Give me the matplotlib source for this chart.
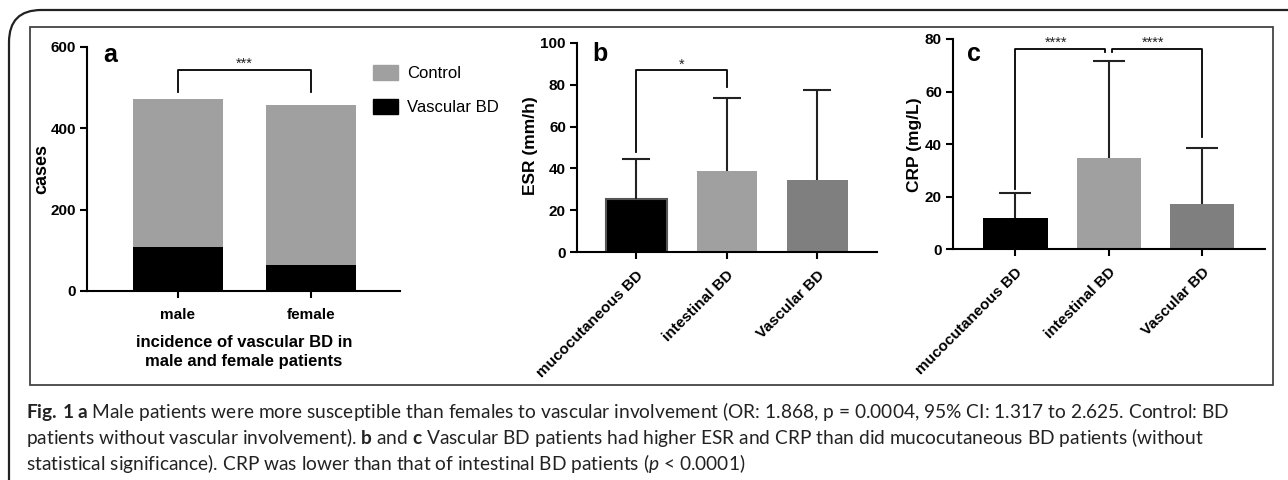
import numpy as np
import matplotlib
matplotlib.use("Agg")
import matplotlib.pyplot as plt
from matplotlib.patches import FancyBboxPatch, Rectangle, Patch

W, H = 1288, 480

# panel a
sexes = ["male", "female"]
vascular_a = [107, 64]
control_a = [365, 393]

# panels b and c
groups = ["mucocutaneous BD", "intestinal BD", "Vascular BD"]
esr_mean = [25.3, 38.7, 34.3]
esr_sd = [19.2, 34.8, 43.2]
crp_mean = [11.9, 34.8, 17.1]
crp_sd = [9.5, 36.9, 21.4]

bar_colors = ["black", "#a0a0a0", "#7f7f7f"]

caption = [
    r"$\mathbf{Fig.\:1\:a}$ Male patients were more susceptible than females to vascular involvement "
    r"(OR: 1.868, p = 0.0004, 95% CI: 1.317 to 2.625. Control: BD",
    r"patients without vascular involvement). $\mathbf{b}$ and $\mathbf{c}$ Vascular BD patients had "
    r"higher ESR and CRP than did mucocutaneous BD patients (without",
    r"statistical significance). CRP was lower than that of intestinal BD patients ($\mathit{p}$ < 0.0001)",
]

plt.rcParams["font.family"] = "Liberation Sans"
plt.rcParams["mathtext.fontset"] = "custom"
plt.rcParams["mathtext.rm"] = "Lato"
plt.rcParams["mathtext.bf"] = "Lato:bold"
plt.rcParams["mathtext.it"] = "Lato:italic"

fig = plt.figure(figsize=(W / 100, H / 100), dpi=100)
LW = 1.5


def px_axes(x0, y0, x1, y1):
    return fig.add_axes([x0 / W, 1 - y1 / H, (x1 - x0) / W, (y1 - y0) / H])


def style(ax):
    for s in ["top", "right"]:
        ax.spines[s].set_visible(False)
    for s in ["left", "bottom"]:
        ax.spines[s].set_linewidth(LW)
    ax.tick_params(width=LW, length=5, labelsize=11, pad=3)
    for lab in ax.get_xticklabels() + ax.get_yticklabels():
        lab.set_fontweight("bold")


def upper_err(ax, x, mean, sd, cap):
    tops = np.array(mean) + np.array(sd)
    ax.vlines(x, mean, tops, color="#222222", lw=1.5)
    ax.plot(x, tops, ls="none", marker="_", ms=cap, mew=1.5, color="#222222")


def bracket(ax, x0, x1, y, y0, y1, lw=1.3):
    ax.plot([x0, x0, x1, x1], [y0, y, y, y1], color="black", lw=lw, clip_on=False)


def stars(ax, x, y, s):
    ax.text(x, y, s, ha="center", va="baseline", fontsize=10.5, color="#222222")


def ftext(x, y, s, **kw):
    fig.text(x / W, 1 - y / H, s, **kw)


# frames
outer = FancyBboxPatch((9 / W, -0.2), 1.2, 1 - 10 / H + 0.2,
                       boxstyle="round,pad=0,rounding_size=0.025",
                       transform=fig.transFigure, fill=False, lw=1.6, ec="#222222",
                       mutation_aspect=W / H)
fig.patches.append(outer)
inner = Rectangle((30 / W, 1 - 385 / H), (1273 - 30) / W, (385 - 27) / H,
                  transform=fig.transFigure, fill=False, lw=1.3, ec="#444444")
fig.patches.append(inner)

# ---- panel a
ax = px_axes(87, 47, 400, 291)
xa = np.arange(len(sexes))
ax.bar(xa, vascular_a, width=0.68, color="black", label="Vascular BD")
ax.bar(xa, control_a, bottom=vascular_a, width=0.68, color="#a0a0a0", label="Control")
ax.set_xlim(-0.684, 1.669)
ax.set_ylim(0, 600)
ax.set_yticks([0, 200, 400, 600])
ax.set_xticks(xa)
ax.set_xticklabels(sexes)
style(ax)
ax.tick_params(axis="x", labelsize=11, pad=7)
bracket(ax, 0, 1, 543, 489, 489)
stars(ax, 0.5, 549, "***")
handles = [Patch(color="#a0a0a0"), Patch(color="black")]
fig.legend(handles, ["Control", "Vascular BD"], loc="upper left",
           bbox_to_anchor=(373 / W, 1 - 65 / H), frameon=False,
           prop={"family": "Liberation Sans", "size": 12},
           handlelength=1.5, handleheight=1.0, handletextpad=0.55,
           labelspacing=1.05, borderpad=0, borderaxespad=0)
ftext(103, 62, "a", fontsize=18, fontweight="bold", va="baseline")
ftext(42, 169, "cases", fontsize=13, fontweight="bold", rotation=90, ha="center", va="center")
ftext(244, 352, "incidence of vascular BD in\nmale and female patients", fontsize=12,
      fontweight="bold", ha="center", va="center", linespacing=1.3)

# ---- panel b
ax = px_axes(577, 43, 877, 252)
xb = np.arange(len(groups))
ax.bar(xb, esr_mean, width=0.67, color=bar_colors, edgecolor=["#555555", "none", "none"],
       linewidth=1.5)
upper_err(ax, xb, esr_mean, esr_sd, 20)
ax.set_xlim(-0.657, 2.66)
ax.set_ylim(0, 100)
ax.set_yticks(np.arange(0, 101, 20))
ax.set_xticks(xb)
ax.set_xticklabels(groups, rotation=45, ha="right", va="top", rotation_mode="anchor")
style(ax)
ax.tick_params(axis="x", labelsize=11, pad=6.5)
bracket(ax, 0, 1, 87, 48, 79)
stars(ax, 0.5, 87.5, "*")
ftext(592, 61, "b", fontsize=18, fontweight="bold", va="baseline")
ftext(530, 146, "ESR (mm/h)", fontsize=12.5, fontweight="bold", rotation=90, ha="center", va="center")

# ---- panel c
ax = px_axes(953, 39, 1265, 249)
ax.bar(xb, crp_mean, width=0.69, color=bar_colors)
upper_err(ax, xb, crp_mean, crp_sd, 23)
ax.set_xlim(-0.668, 2.674)
ax.set_ylim(0, 80)
ax.set_yticks(np.arange(0, 81, 20))
ax.set_xticks(xb)
ax.set_xticklabels(groups, rotation=45, ha="right", va="top", rotation_mode="anchor")
style(ax)
ax.tick_params(axis="x", labelsize=11, pad=6.5)
bracket(ax, 0, 0.965, 76.2, 23, 75)
bracket(ax, 1.035, 2, 76.2, 75, 42.7)
stars(ax, 0.44, 77, "****")
stars(ax, 1.47, 77, "****")
ftext(967, 61, "c", fontsize=18, fontweight="bold", va="baseline")
ftext(915, 145, "CRP (mg/L)", fontsize=12.5, fontweight="bold", rotation=90, ha="center", va="center")

# ---- caption
for i, line in enumerate(caption):
    ftext(26, 418 + 26 * i, line, fontsize=13.8, family="Lato", color="#222222", va="baseline")

fig.savefig("out.png", dpi=100)
